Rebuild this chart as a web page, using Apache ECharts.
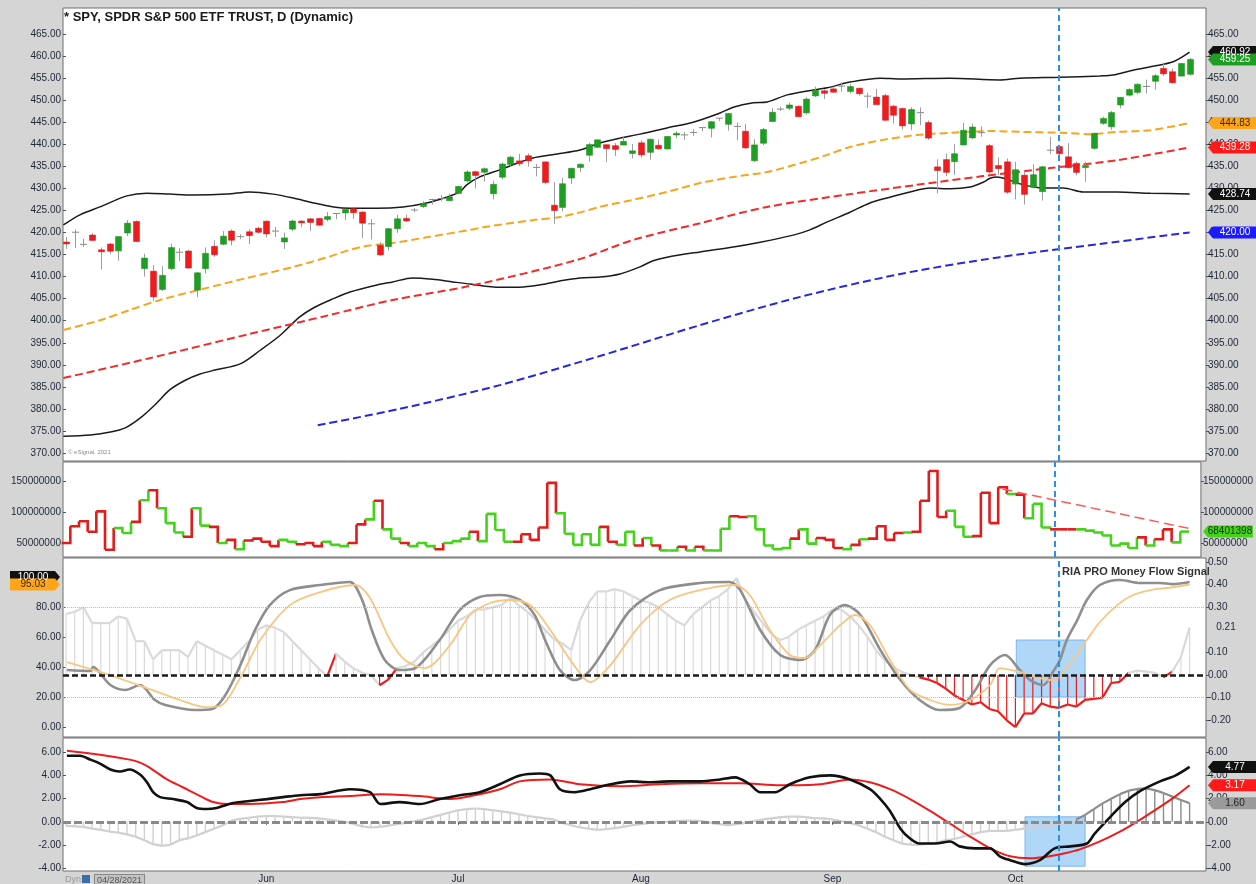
<!DOCTYPE html>
<html>
<head>
<meta charset="utf-8">
<title>SPY daily</title>
<script src="https://cdn.jsdelivr.net/npm/echarts@6/dist/echarts.min.js"></script>
<style>
html,body{margin:0;padding:0;background:#d5d5d5;}
#chart{width:1256px;height:884px;}
</style>
</head>
<body>
<div id="chart"></div>
<script>
// trading days shown, Apr 28 - Oct 29 2021
const months = ['Apr','May','Jun','Jul','Aug','Sep','Oct'];
const tradingDays = [
  [28,29,30],
  [3,4,5,6,7,10,11,12,13,14,17,18,19,20,21,24,25,26,27,28],
  [1,2,3,4,7,8,9,10,11,14,15,16,17,18,21,22,23,24,25,28,29,30],
  [1,2,6,7,8,9,12,13,14,15,16,19,20,21,22,23,26,27,28,29,30],
  [2,3,4,5,6,9,10,11,12,13,16,17,18,19,20,23,24,25,26,27,30,31],
  [1,2,3,7,8,9,10,13,14,15,16,17,20,21,22,23,24,27,28,29,30],
  [1,4,5,6,7,8,11,12,13,14,15,18,19,20,21,22,25,26,27,28,29]
];
// month names printed under the bottom panel (May is hidden behind the date box)
const labelledMonths = ['Jun','Jul','Aug','Sep','Oct'];

// [open, close, low, high]
const ohlc = [
  [417.84,417.40,416.30,419.01],[420.32,420.06,416.44,420.72],[417.63,417.30,416.73,418.54],
  [419.43,418.20,417.99,419.84],[416.07,415.62,411.67,416.60],[417.38,415.75,415.15,417.63],
  [415.83,419.07,413.59,419.21],[419.89,422.12,419.16,422.82],[422.50,417.94,417.91,422.74],
  [411.80,414.21,410.00,415.18],[411.23,405.41,404.50,412.59],[407.07,410.28,406.73,412.35],
  [411.80,416.58,411.45,417.49],[415.39,415.52,413.47,416.39],[415.80,411.94,411.77,416.06],
  [406.92,410.86,405.33,411.05],[411.80,415.28,410.68,416.63],[416.87,414.94,414.48,418.20],
  [417.34,419.17,417.11,420.32],[420.33,418.24,417.08,420.71],[418.87,419.07,418.46,419.61],
  [420.17,419.29,417.38,420.72],[420.97,420.04,419.76,421.25],
  [422.57,419.67,418.84,422.72],[420.37,420.33,418.99,421.23],[417.85,418.77,416.28,419.99],
  [420.75,422.60,420.32,422.92],[422.59,422.19,421.19,422.78],[423.11,422.28,420.38,423.21],
  [423.18,421.65,421.61,423.26],[422.96,423.61,422.50,424.63],[424.20,424.31,423.02,424.43],
  [424.43,425.26,422.82,425.37],[425.42,424.48,423.10,425.46],[424.63,422.11,418.70,424.87],
  [421.67,421.97,418.42,423.02],[417.09,414.92,414.70,417.83],[416.80,420.86,415.91,421.06],
  [420.85,423.11,419.92,424.00],[423.19,422.60,422.40,424.05],[424.89,425.10,424.62,425.55],
  [425.90,426.61,425.55,427.09],[427.17,427.47,426.30,427.65],[427.88,427.70,427.09,428.56],
  [427.21,428.06,427.13,428.78],
  [428.87,430.43,428.80,430.60],[431.67,433.72,431.39,434.10],[433.78,432.93,430.01,434.01],
  [433.66,434.46,431.51,434.76],[428.78,430.92,427.52,431.73],[432.53,435.52,432.06,435.84],
  [435.43,437.08,434.96,437.35],[436.24,435.59,435.06,437.84],[437.40,436.24,434.97,437.92],
  [434.81,434.75,432.72,435.53],[436.01,431.34,430.92,436.06],[426.19,424.97,421.97,431.41],
  [425.68,431.06,424.80,432.42],[432.34,434.55,431.01,434.70],[434.74,435.46,433.69,435.72],
  [437.52,439.94,436.10,440.30],[439.31,441.02,439.26,441.03],[439.91,439.01,435.99,439.94],
  [439.68,438.83,437.31,440.30],[439.82,440.65,439.81,441.80],[437.91,438.51,436.79,440.06],
  [440.34,437.59,436.96,440.93],[438.17,441.15,436.49,441.28],[439.78,438.98,438.73,441.12],
  [438.94,441.76,438.80,441.85],[442.10,442.49,441.31,442.94],[442.46,442.13,441.00,442.80],
  [442.61,442.68,441.87,443.44],[443.82,443.78,442.93,443.88],[443.62,445.11,441.55,445.26],
  [445.59,445.92,445.27,445.94],[444.53,446.97,443.10,447.11],[444.24,444.04,440.91,444.96],
  [442.96,439.18,438.92,444.63],[436.27,439.86,436.01,441.14],[440.23,443.36,439.84,443.71],
  [445.16,447.26,445.07,448.23],[447.97,447.97,447.54,448.54],[448.17,448.91,447.72,449.46],
  [448.61,446.26,446.16,448.86],[447.12,450.25,446.73,450.65],[450.97,452.23,450.71,453.07],
  [452.13,451.56,450.27,452.49],
  [452.56,451.80,451.69,453.11],[453.32,453.19,451.91,454.05],[451.98,453.08,451.54,453.63],
  [452.71,451.46,451.02,452.81],[450.89,450.91,448.27,451.67],[450.70,448.98,448.95,452.57],
  [451.04,445.44,445.38,451.49],[448.64,446.58,444.73,448.92],[448.12,444.17,443.35,448.34],
  [444.62,447.88,443.22,448.41],[447.32,447.17,444.35,448.36],[444.92,441.40,441.02,445.37],
  [434.88,434.04,428.86,436.56],[436.53,433.63,432.78,437.91],[436.05,437.86,433.07,440.03],
  [439.85,443.18,439.71,444.89],[441.44,443.91,441.21,444.67],[442.81,442.64,441.70,444.05],
  [439.69,433.72,433.37,440.04],[435.19,434.45,433.06,437.04],[436.02,429.14,428.78,436.77],
  [430.98,434.24,427.54,436.03],[433.00,428.64,426.36,433.96],[430.24,433.10,429.96,435.49],
  [429.27,434.90,427.23,435.12],[438.39,438.66,437.82,441.68],[439.48,437.86,437.50,439.89],
  [437.16,434.69,434.66,440.26],[435.67,433.62,432.96,436.10],[434.71,435.18,431.49,436.05],
  [439.08,442.50,438.79,442.66],[444.75,445.87,444.43,446.26],[443.97,447.19,443.27,447.55],
  [448.92,450.64,448.14,450.71],[451.13,452.41,450.81,452.73],[451.77,453.59,451.31,453.83],
  [453.13,453.12,451.55,454.67],[454.28,455.55,452.39,455.90],[457.20,455.96,455.52,458.49],
  [456.45,453.94,453.86,457.16],[455.46,458.32,455.45,458.40],[455.87,459.25,455.56,459.56]
];

// overlays on price, [bar index, value]
const upperBand = [[-0.3,421.7],[1.6,424.0],[3.9,425.8],[7.0,428.3],[9.3,428.9],[11.9,428.7],[14.6,428.5],[18.5,428.7],[21.1,429.2],[23.8,428.7],[26.1,427.8],[28.4,426.7],[30.7,425.8],[32.6,425.5],[35.7,425.5],[38.7,425.8],[41.4,426.7],[43.7,428.0],[45.2,429.2],[46.0,430.8],[47.5,432.6],[49.8,434.2],[51.8,435.7],[53.6,436.9],[56.4,437.8],[59.0,438.7],[61.3,440.3],[63.6,441.4],[65.9,442.3],[69.0,443.7],[72.0,445.0],[75.1,447.1],[76.6,448.4],[78.9,449.4],[80.5,449.6],[82.8,451.2],[85.1,452.1],[87.4,452.8],[90.0,454.1],[93.5,455.0],[95.8,454.8],[101.5,455.0],[107.2,454.6],[109.5,455.0],[114.1,455.2],[118.7,455.5],[120.2,455.7],[122.5,456.8],[124.8,457.7],[127.1,458.7],[129,460.9]];
const lowerBand = [[-0.3,373.8],[2.8,374.1],[5.1,374.75],[6.8,375.7],[8.5,377.9],[10.2,380.9],[11.9,384.3],[13.7,386.5],[15.4,387.9],[17.1,388.8],[20.0,390.2],[22.3,393.3],[24.6,396.7],[26.8,400.8],[28.5,403.0],[30.7,405.0],[32.6,406.5],[35.7,408.1],[37.5,408.8],[39.8,409.7],[42.1,409.4],[44.4,408.8],[46.4,408.3],[49.8,407.6],[52.1,407.6],[54.4,408.1],[56.7,409.0],[59.0,409.7],[61.3,409.9],[63.6,410.6],[65.9,412.2],[67.4,413.6],[69.0,414.4],[72.8,415.6],[76.6,416.7],[79.7,417.8],[83.5,419.4],[85.4,420.6],[87.4,422.4],[90.0,424.6],[92.3,426.7],[94.6,428.0],[96.9,429.2],[99.2,430.1],[101.5,429.9],[103.8,430.3],[105.3,431.4],[106.1,432.3],[106.9,432.6],[108.0,432.1],[109.9,430.8],[112.2,430.1],[114.5,430.1],[116.8,429.2],[120.7,429.2],[124.5,428.9],[129,428.74]];
const ma50 = [[-0.3,397.9],[3.9,400.1],[7.3,402.4],[10.8,404.7],[15.7,407.2],[20.8,409.7],[26.1,412.2],[30.0,414.4],[33.8,416.7],[37.5,417.6],[41.4,418.9],[46.4,420.6],[47.9,421.2],[53.6,422.8],[56.7,423.5],[58.7,424.4],[61.3,425.8],[65.1,427.4],[69.0,429.2],[72.8,431.2],[76.6,432.6],[80.5,433.7],[84.3,435.7],[87.4,437.6],[90.0,439.4],[93.8,441.0],[97.7,442.1],[101.5,442.6],[106.1,443.0],[109.9,442.8],[114.5,442.6],[117.6,442.3],[120.7,442.8],[124.5,443.2],[129,444.83]];
const ma100 = [[-0.3,387.0],[9.6,391.5],[21.1,397.0],[30.3,401.3],[37.5,404.7],[46.4,407.9],[58.7,413.8],[65.1,418.3],[72.8,422.1],[80.5,425.8],[90.0,428.7],[97.7,430.8],[105.3,432.8],[113,434.6],[120.7,436.4],[129,439.28]];
const ma200 = [[28.9,376.3],[38.3,380.0],[49.8,385.4],[61.3,392.0],[72.8,399.0],[84.3,405.4],[95.8,410.6],[107.2,414.4],[118.7,417.4],[129,420.0]];

// volume, millions of shares
const volumeM = [
  50,77,85,
  68,101,39,74,66,84,119,135,106,82,67,60,106,78,76,50,55,40,54,57,
  52,45,55,52,48,50,45,52,47,45,50,80,88,118,72,57,50,45,50,45,40,50,
  53,57,68,53,97,71,52,52,64,55,75,147,98,65,47,64,47,76,52,47,68,
  46,58,46,38,38,44,38,44,38,38,73,93,92,93,72,46,40,42,57,72,49,58,
  55,42,40,47,56,57,77,55,66,67,68,118,166,92,102,76,60,61,131,82,140,
  129,128,90,113,75,72,72,72,72,70,67,62,46,49,42,59,46,56,72,51,68.401398
];
const volTrend = [[108,137],[130,72]];

// RIA PRO money flow signal
const mfHist = [
  0.27,0.28,0.30,0.23,0.23,0.23,0.26,0.25,0.15,0.15,0.07,0.11,0.11,0.11,0.08,0.15,0.13,0.11,0.09,0.07,
  0.11,0.15,0.20,0.22,0.21,0.19,0.15,0.11,0.07,0.03,
  -0.005,0.095,0.06,0.03,0.01,0.0,-0.045,-0.02,
  0.03,0.04,0.06,0.10,0.13,0.16,0.20,0.24,0.26,0.29,
  0.29,0.30,0.31,0.34,0.31,0.28,0.24,0.20,0.16,0.14,
  0.11,0.24,0.32,0.37,0.37,0.38,0.37,0.35,0.33,0.32,
  0.30,0.27,0.24,0.22,0.27,0.30,0.33,0.35,0.38,0.43,
  0.33,0.28,0.23,0.18,0.155,0.17,0.20,0.22,0.24,0.26,
  0.29,0.29,0.26,0.22,0.17,0.11,0.066,0.035,0.013,0.0,
  -0.01,-0.02,-0.035,-0.06,-0.09,-0.11,-0.13,-0.12,-0.15,-0.16,
  -0.20,-0.23,-0.17,-0.17,-0.125,-0.14,-0.145,-0.13,-0.14,-0.11,
  -0.105,-0.10,-0.035,-0.03,0.01,0.02,0.015,0.01,-0.01,0.015,
  0.08,0.21
];
const mfLine = [[0.1,38],[2.8,37.3],[3.1,40],[5.1,28],[6.8,24.7],[8.5,28],[10.2,18],[11.4,14.7],[14.8,11.3],[16.8,12],[18.3,21.3],[20,41],[21.7,64.7],[23.4,81.3],[25.7,91.3],[29.2,94.7],[32.6,96.7],[34,84.7],[35.1,64.7],[36.6,44.7],[38.3,38],[40.1,39.3],[42.9,58],[45.2,78],[47.5,86.7],[49.8,88],[52.1,84.7],[53.8,74.7],[55,58],[56.7,38],[58.4,31.3],[60.2,38],[62.5,58],[64.8,78],[68.2,91.3],[72.8,96],[76.2,96.7],[77.4,91.3],[79.7,64.7],[82,48],[84.3,44.7],[86,51.3],[87.7,74.7],[89.4,81.3],[91.2,74.7],[93.5,51.3],[95.8,31.3],[98,18],[100.3,11.3],[102.6,12.7],[104.4,24.7],[106.1,41.3],[107.8,48],[109.5,38],[110.7,31.3],[112.2,28],[113.3,36.7],[114.1,44.7],[114.9,58],[116.1,71.3],[117.2,84.7],[118.7,94.7],[121,98],[123.3,96],[125.6,96],[127.1,95.3],[129,96.7]];
const mfSignal = [[0.1,43.3],[3.9,36.7],[7.3,30],[10.8,22.7],[13.1,18],[16,13.3],[17.7,14],[20,32.7],[22.3,58],[25.7,81.3],[29.2,90],[33.2,94.7],[34.9,86],[37.2,58],[38.9,44.7],[41.2,39.3],[44.1,54.7],[46.4,74.7],[48.7,82.7],[51,84.7],[53.3,81.3],[55.6,64.7],[57.9,44.7],[60.2,30],[62.5,41.3],[65.9,68],[69.3,84.7],[72.8,91.3],[76.8,94.7],[78.5,88],[80.8,64.7],[83.1,48],[84.8,46],[86.6,54.7],[88.9,68],[90.6,74.7],[92.3,68],[94.6,44.7],[96.9,24.7],[99.2,18],[101.5,14.7],[103.8,18],[106.1,28],[107.2,39.3],[109.5,36.7],[111.8,32.7],[112.9,31.3],[114.1,34],[115.6,44.7],[117.2,58],[118.7,70],[120.7,81.3],[122.5,88],[124.5,91.3],[126.4,92.7],[129,95.03]];

// MACD
const macdLine = [[0.1,5.74],[1.6,5.74],[2.8,5.4],[3.9,5.06],[5.1,4.54],[6.2,4.37],[7.3,4.54],[8.5,4.11],[9.3,3.43],[10,2.57],[10.8,2.14],[12.3,1.97],[13.9,1.71],[15,1.2],[16.2,1.11],[17.3,1.2],[18,1.37],[19.2,1.63],[21.1,1.8],[23.1,1.97],[24.9,2.14],[26.9,2.31],[29.2,2.4],[32.6,2.83],[34.9,2.57],[36.1,1.54],[38.3,1.71],[40.6,1.54],[42.9,1.97],[45.2,2.31],[47.5,2.57],[49.8,3.26],[52.1,4.03],[54.4,4.2],[55.6,4.03],[56.7,2.83],[58.4,2.57],[60.2,2.83],[62.5,3.26],[64.8,3.51],[67,3.43],[69.3,3.51],[72.8,3.51],[75.1,3.68],[76.8,3.86],[78.5,3.26],[79.7,2.57],[81.4,2.57],[83.1,3.26],[85.4,3.86],[87.7,4.03],[90,3.68],[92.3,2.83],[93.5,1.97],[94.6,0.94],[95.8,-0.6],[96.9,-1.46],[98,-1.89],[99.8,-1.89],[101.5,-1.71],[102.6,-2.14],[104.4,-2.31],[106.1,-2.31],[107.2,-3.0],[108.4,-3.34],[110.1,-3.68],[111.8,-3.34],[113.5,-2.31],[115.3,-2.14],[117.2,-1.89],[118.1,-1.03],[119.9,0.43],[121.6,1.71],[123.3,2.66],[125.6,3.51],[127.4,4.03],[129,4.77]];
const macdSignal = [[0.1,6.17],[3.9,5.83],[7.3,5.4],[8.5,5.14],[9.6,4.71],[11.6,3.68],[13.4,3.0],[15.4,2.23],[16.9,1.71],[18.5,1.54],[21.1,1.54],[24.9,1.71],[26.9,1.97],[29.2,2.14],[32.6,2.23],[36.1,2.4],[40.6,2.23],[44.1,1.97],[47.5,2.4],[49.8,2.83],[52.1,3.51],[55.6,3.68],[59,3.26],[63.6,3.08],[68.2,3.26],[72.8,3.34],[77.4,3.34],[82,3.17],[86.6,3.26],[90,3.68],[92.3,3.43],[94.6,2.83],[96.9,1.97],[99.2,0.94],[101.5,-0.17],[103.8,-1.29],[106.1,-2.31],[108.4,-3.0],[110.7,-3.17],[112.9,-3.0],[114.7,-2.74],[116.4,-2.4],[118.7,-1.71],[121,-0.86],[123.3,0.17],[125.6,1.29],[127.4,2.23],[129,3.17]];
const macdHist = [
  -0.35,-0.4,-0.45,-0.6,-0.7,-0.85,-0.95,-1.1,-1.3,-1.6,-1.95,-2.1,-2.0,-1.6,-1.45,-1.2,-0.9,-0.6,-0.3,
  0.1,0.25,0.35,0.45,0.5,0.5,0.45,0.4,0.35,0.35,0.3,
  0.2,0.1,0.0,-0.2,-0.4,-0.5,-0.45,-0.35,-0.2,-0.1,0.05,
  0.2,0.4,0.6,0.8,1.0,1.1,1.15,1.1,1.0,0.9,0.8,0.65,0.5,0.4,0.3,0.2,
  -0.1,-0.3,-0.5,-0.6,-0.7,-0.65,-0.55,-0.45,-0.3,-0.2,-0.1,-0.05,0.0,0.05,
  0.1,0.1,0.05,-0.1,-0.2,-0.3,-0.2,-0.1,0.05,0.2,0.3,0.4,0.45,0.45,0.4,0.3,
  0.3,0.2,0.05,-0.1,-0.3,-0.6,-0.9,-1.3,-1.6,-1.9,-2.0,-2.0,-1.9,-1.8,-1.6,-1.5,-1.3,-1.1,-0.9,-0.8,-0.8,-0.8,-0.7,-0.6,-0.5,-0.4,-0.3,-0.2,-0.05,
  0.2,0.6,1.1,1.6,2.0,2.4,2.7,2.85,2.9,2.75,2.5,2.2,1.9,1.6
];
const macdDarkFrom = 116;

// annotations
const cursorBar = 114;
const mfHighlight = [109.1, 0.155, 117.0, -0.097];
const macdHighlight = [110.1, 0.43, 117.0, -3.86];

const mainTicks = [370,375,380,385,390,395,400,405,410,415,420,425,430,435,440,445,450,455,460,465];
const volTicks = [50,100,150];
const mfLeftTicks = [0,20,40,60,80];
const mfRightTicks = [-0.2,-0.1,0,0.1,0.3,0.4,0.5];
const macdTicks = [-4,-2,0,2,4,6];

// ---------------------------------------------------------------
const dates = [];
const monthStart = [];
months.forEach(function (m, k) {
  tradingDays[k].forEach(function (d, j) {
    if (j === 0 && labelledMonths.indexOf(m) >= 0) monthStart.push(dates.length);
    dates.push(m + ' ' + d);
  });
});

const X_MIN = -0.344, X_MAX = 130.88;
const FONT = 'Liberation Sans';
const labelStyle = { fontFamily: FONT, fontSize: 10, color: '#1d2633', margin: 2 };

function yAxis(gridIndex, position, min, max, ticks, fmt) {
  return {
    type: 'value', gridIndex: gridIndex, position: position, min: min, max: max,
    axisLine: { show: false }, splitLine: { show: false },
    axisTick: { show: true, customValues: ticks, length: 3, lineStyle: { color: '#555' } },
    axisLabel: Object.assign({ customValues: ticks, formatter: fmt }, labelStyle)
  };
}
function xAxis(gridIndex) {
  const ax = {
    type: 'value', gridIndex: gridIndex, min: X_MIN, max: X_MAX,
    axisLine: { show: false }, splitLine: { show: false },
    axisTick: { show: false }, axisLabel: { show: false }
  };
  if (gridIndex === 3) {
    ax.axisTick = { show: true, customValues: monthStart, length: 3, inside: false, lineStyle: { color: '#555' } };
    ax.axisLabel = Object.assign({ show: true, customValues: monthStart, formatter: function (v) { return dates[Math.round(v)].split(' ')[0]; } }, labelStyle, { margin: 3 });
  }
  return ax;
}
const fix2 = function (v) { return v.toFixed(2); };
const volFmt = function (v) { return String(Math.round(v * 1000000)); };

const arrowLeft = 'path://M0,6L5,0L50,0L50,12L5,12Z';
const arrowRight = 'path://M0,0L45,0L50,6L45,12L0,12Z';
function tag(value, text, bg, fg, side) {
  const left = side === 'left';
  return {
    coord: [left ? X_MIN : X_MAX, value],
    symbol: left ? arrowRight : arrowLeft,
    symbolSize: [50, 12],
    symbolOffset: [left ? -28 : 27, 0],
    itemStyle: { color: bg },
    label: { show: true, formatter: text, color: fg, fontSize: 10, fontFamily: FONT, offset: [left ? -2 : 2, 0] }
  };
}
function cursorLine() {
  return {
    silent: true, symbol: ['none', 'none'], label: { show: false },
    lineStyle: { color: '#2a8fe6', type: [6, 4], width: 2 },
    data: [{ xAxis: cursorBar }]
  };
}

function renderCandle(params, api) {
  const i = api.value(0), o = api.value(1), c = api.value(2), l = api.value(3), h = api.value(4);
  const pO = api.coord([i, o]), pC = api.coord([i, c]), pL = api.coord([i, l]), pH = api.coord([i, h]);
  const x = Math.round(pO[0]) + 0.5, w = 6;
  const doji = Math.abs(c - o) < 0.35;
  const children = [{
    type: 'line', shape: { x1: x, y1: pH[1], x2: x, y2: pL[1] },
    style: { stroke: '#9d9d9d', lineWidth: 1 }
  }];
  if (doji) {
    children.push({ type: 'line', shape: { x1: x - 3.5, y1: pC[1], x2: x + 3.5, y2: pC[1] }, style: { stroke: '#8a8a8a', lineWidth: 1 } });
  } else {
    const top = Math.min(pO[1], pC[1]);
    children.push({
      type: 'rect', shape: { x: x - w / 2, y: top, width: w, height: Math.max(Math.abs(pO[1] - pC[1]), 1.5) },
      style: { fill: c > o ? '#1e9e23' : '#ee1b1f', stroke: c > o ? '#198a1d' : '#d41418', lineWidth: 0.5 }
    });
  }
  return { type: 'group', children: children };
}

function renderVolume(params, api) {
  const i = api.value(0), v = api.value(1);
  const next = i < volumeM.length - 1 ? volumeM[i + 1] : v;
  const a = api.coord([i - 0.5, v]), b = api.coord([i + 0.5, v]), c = api.coord([i + 0.5, next]);
  const up = ohlc[i][1] >= ohlc[i][0];
  return {
    type: 'polyline', shape: { points: [a, b, c] },
    style: { stroke: up ? '#46d21c' : '#e21c1c', lineWidth: 2.6, fill: 'none' }
  };
}

function histRenderer(values, colorOf, barWidth) {
  return function (params, api) {
    const i = api.value(0), v = api.value(1);
    const base = api.coord([i, 0]), top = api.coord([i, v]);
    const col = colorOf(i, v);
    const children = [{ type: 'line', shape: { x1: top[0], y1: base[1], x2: top[0], y2: top[1] }, style: { stroke: col, lineWidth: barWidth } }];
    if (i < values.length - 1) {
      const nx = api.coord([i + 1, values[i + 1]]);
      children.push({ type: 'line', shape: { x1: top[0], y1: top[1], x2: nx[0], y2: nx[1] }, style: { stroke: col, lineWidth: 2.2 } });
    }
    return { type: 'group', children: children };
  };
}

function lineSeries(data, x, y, color, width, dashed, extra) {
  return Object.assign({
    type: 'line', xAxisIndex: x, yAxisIndex: y, data: data, showSymbol: false, smooth: 0.3,
    lineStyle: { color: color, width: width, type: dashed ? [8, 4] : 'solid' }, silent: true, z: 3
  }, extra || {});
}

const chart = echarts.init(document.getElementById('chart'), null, { renderer: 'canvas' });

chart.setOption({
  animation: false,
  backgroundColor: '#d5d5d5',
  title: {
    text: '* SPY, SPDR S&P 500 ETF TRUST, D (Dynamic)', left: 64, top: 11, padding: 0,
    textStyle: { fontFamily: FONT, fontSize: 13, fontWeight: 'bold', color: '#1a1a1a' }
  },
  grid: [
    { left: 63, right: 50, top: 8, height: 453 },
    { left: 63, right: 50, top: 462, height: 95 },
    { left: 63, right: 50, top: 558, height: 179 },
    { left: 63, right: 50, top: 738, height: 135 }
  ].map(function (g) {
    return Object.assign({ show: true, backgroundColor: '#ffffff', borderColor: '#6e6e6e', borderWidth: 1 }, g);
  }),
  xAxis: [xAxis(0), xAxis(1), xAxis(2), xAxis(3)],
  yAxis: [
    yAxis(0, 'left', 368.19, 470.9, mainTicks, fix2),
    yAxis(0, 'right', 368.19, 470.9, mainTicks, fix2),
    yAxis(1, 'left', 27.4, 180.6, volTicks, volFmt),
    yAxis(1, 'right', 27.4, 180.6, volTicks, volFmt),
    yAxis(2, 'left', -6.67, 112.7, mfLeftTicks, fix2),
    yAxis(2, 'right', -0.274, 0.518, mfRightTicks, fix2),
    yAxis(3, 'left', -4.28, 7.28, macdTicks, fix2),
    yAxis(3, 'right', -4.28, 7.28, macdTicks, fix2)
  ],
  graphic: [
    { type: 'text', left: 68, top: 449, silent: true, style: { text: '\u00a9 eSignal, 2021', fontSize: 6, fontFamily: FONT, fill: '#8a8a8a' } },
    { type: 'text', left: 1062, top: 566, silent: true, style: { text: 'RIA PRO Money Flow Signal', fontSize: 11, fontWeight: 'bold', fontFamily: FONT, fill: '#333' } },
    { type: 'text', left: 65, top: 875, silent: true, style: { text: 'Dyn', fontSize: 9, fontFamily: FONT, fill: '#9a9a9a' } },
    { type: 'rect', left: 82, top: 875, silent: true, shape: { width: 8, height: 8 }, style: { fill: '#3a6ea5' } },
    { type: 'text', left: 94, top: 874, silent: true, style: { text: '04/28/2021', fontSize: 9, fontFamily: FONT, fill: '#555', backgroundColor: '#c4c4c4', padding: [1, 2], borderColor: '#888', borderWidth: 1 } }
  ],
  series: [
    // price panel
    {
      type: 'custom', name: 'SPY', xAxisIndex: 0, yAxisIndex: 0, silent: true, z: 4,
      data: ohlc.map(function (d, i) { return [i, d[0], d[1], d[2], d[3]]; }),
      encode: { x: 0, y: [1, 2, 3, 4] },
      renderItem: renderCandle
    },
    lineSeries(upperBand, 0, 0, '#1b1b1b', 1.5, false),
    lineSeries(lowerBand, 0, 0, '#1b1b1b', 1.5, false),
    lineSeries(ma50, 0, 0, '#f7a51d', 2, true),
    lineSeries(ma100, 0, 0, '#f22a2a', 2, true),
    lineSeries(ma200, 0, 0, '#2727dd', 2, true),
    {
      type: 'line', xAxisIndex: 0, yAxisIndex: 0, data: [], z: 6,
      markLine: cursorLine(),
      markPoint: {
        silent: true,
        data: [
          tag(471.18, '471.18', '#7d7d7d', '#dcdcdc'),
          tag(471.18, '471.18', '#7d7d7d', '#dcdcdc', 'left'),
          tag(460.92, '460.92', '#111111', '#ffffff'),
          tag(459.25, '459.25', '#1e9e23', '#ffffff'),
          tag(444.83, '444.83', '#ffa51a', '#3a2a00'),
          tag(439.28, '439.28', '#ff1a1a', '#ffffff'),
          tag(428.74, '428.74', '#111111', '#ffffff'),
          tag(420.00, '420.00', '#1b1bff', '#ffffff')
        ]
      }
    },
    // volume panel
    {
      type: 'custom', name: 'Volume', xAxisIndex: 1, yAxisIndex: 2, silent: true, z: 3,
      data: volumeM.map(function (v, i) { return [i, v]; }),
      encode: { x: 0, y: 1 },
      renderItem: renderVolume
    },
    lineSeries(volTrend, 1, 2, '#ff5a5a', 1.5, true, { smooth: false, lineStyle: { color: '#ff5a5a', width: 1.5, type: [10, 5] } }),
    {
      type: 'line', xAxisIndex: 1, yAxisIndex: 2, data: [], z: 6,
      markLine: cursorLine(),
      markPoint: { silent: true, data: [tag(68.401398, '68401398', '#46d21c', '#0d3300')] }
    },
    // money flow panel
    {
      type: 'custom', name: 'MF hist', xAxisIndex: 2, yAxisIndex: 5, silent: true, z: 2,
      data: mfHist.map(function (v, i) { return [i, v]; }),
      encode: { x: 0, y: 1 },
      renderItem: histRenderer(mfHist, function (i, v) { return v < 0 ? '#ec1c1c' : '#d9d9d9'; }, 1.2)
    },
    lineSeries(mfLine, 2, 4, '#8e8e8e', 2.6, false),
    lineSeries(mfSignal, 2, 4, '#f9c583', 1.8, false),
    {
      type: 'line', xAxisIndex: 2, yAxisIndex: 5, data: [], z: 5,
      markLine: {
        silent: true, symbol: ['none', 'none'], label: { show: false },
        data: [
          { yAxis: 0.30, lineStyle: { color: '#bdbdbd', type: 'dotted', width: 1 } },
          { yAxis: -0.10, lineStyle: { color: '#bdbdbd', type: 'dotted', width: 1 } },
          { yAxis: 0, lineStyle: { color: '#1a1a1a', type: [6, 3], width: 2.5 } },
          { xAxis: cursorBar, lineStyle: { color: '#2a8fe6', type: [6, 4], width: 2 } }
        ]
      },
      markArea: {
        silent: true,
        itemStyle: { color: 'rgba(112,182,240,0.55)', borderColor: '#7ab9ee', borderWidth: 1 },
        data: [[{ coord: [mfHighlight[0], mfHighlight[1]] }, { coord: [mfHighlight[2], mfHighlight[3]] }]]
      },
      markPoint: {
        silent: true,
        data: [{
          coord: [X_MAX, 0.21], symbol: 'rect', symbolSize: [1, 1], symbolOffset: [16, 0], itemStyle: { color: 'rgba(0,0,0,0)' },
          label: { show: true, formatter: '0.21', color: '#1d2633', fontSize: 10, fontFamily: FONT, offset: [4, 0] }
        }]
      }
    },
    {
      type: 'line', xAxisIndex: 2, yAxisIndex: 4, data: [], z: 6,
      markPoint: {
        silent: true,
        data: [
          tag(100, '100.00', '#111111', '#ffffff', 'left'),
          tag(95.03, '95.03', '#ffa51a', '#3a2a00', 'left')
        ]
      }
    },
    // MACD panel
    {
      type: 'custom', name: 'MACD hist', xAxisIndex: 3, yAxisIndex: 6, silent: true, z: 2,
      data: macdHist.map(function (v, i) { return [i, v]; }),
      encode: { x: 0, y: 1 },
      renderItem: histRenderer(macdHist, function (i) { return i >= macdDarkFrom ? '#8c8c8c' : '#d0d0d0'; }, 1.4)
    },
    lineSeries(macdSignal, 3, 6, '#ee1c1c', 2, false),
    lineSeries(macdLine, 3, 6, '#111111', 2.6, false),
    {
      type: 'line', xAxisIndex: 3, yAxisIndex: 6, data: [], z: 5,
      markLine: {
        silent: true, symbol: ['none', 'none'], label: { show: false },
        data: [
          { yAxis: 0, lineStyle: { color: '#8a8a8a', type: [8, 3], width: 3 } },
          { xAxis: cursorBar, lineStyle: { color: '#2a8fe6', type: [6, 4], width: 2 } }
        ]
      },
      markArea: {
        silent: true,
        itemStyle: { color: 'rgba(112,182,240,0.55)', borderColor: '#7ab9ee', borderWidth: 1 },
        data: [[{ coord: [macdHighlight[0], macdHighlight[1]] }, { coord: [macdHighlight[2], macdHighlight[3]] }]]
      },
      markPoint: {
        silent: true,
        data: [
          tag(4.77, '4.77', '#111111', '#ffffff'),
          tag(3.17, '3.17', '#ff1a1a', '#ffffff'),
          tag(1.60, '1.60', '#9a9a9a', '#222222')
        ]
      }
    }
  ]
});
</script>
</body>
</html>
